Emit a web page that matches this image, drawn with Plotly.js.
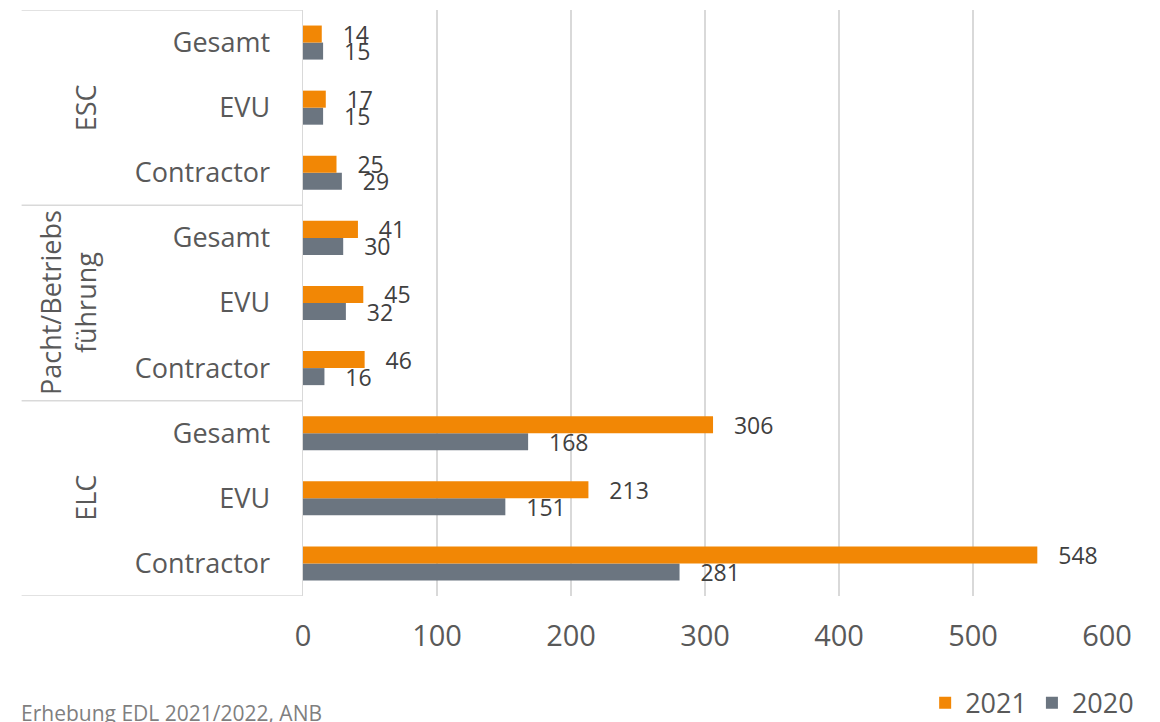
<!DOCTYPE html>
<html>
<head>
<meta charset="utf-8">
<script src="https://cdn.plot.ly/plotly-3.0.1.min.js"></script>
<style>
  body { margin: 0; background: #fff; }
  #chart { width: 1160px; height: 722px; }
</style>
</head>
<body>
<div id="chart"></div>
<script>
// bottom to top, as plotly draws them
const groups = ['ELC', 'Pacht/Betriebs<br>führung', 'ESC'];
const roles = ['Contractor', 'EVU', 'Gesamt'];
const years = ['2020', '2021'];
const values2020 = [281, 151, 168, 16, 32, 30, 29, 15, 15];
const values2021 = [548, 213, 306, 46, 45, 41, 25, 17, 14];
const source = 'Erhebung EDL 2021/2022, ANB';

const colors = { '2021': '#f28705', '2020': '#6b7580' };
const gridCol = '#d9d9d9';
const textCol = '#595959';
const font = 'Open Sans, sans-serif';

let rowLabels = [];
let rowIdx = [];
groups.forEach(function (g, gi) {
    roles.forEach(function (r, ri) {
        rowLabels.push(r);
        rowIdx.push(gi * roles.length + ri);
    });
});

function makeTrace(year, vals) {
    return {
        type: 'bar',
        orientation: 'h',
        name: year,
        x: vals,
        y: rowIdx,
        marker: { color: colors[year] },
        text: vals.map(String),
        texttemplate: '\u00a0\u00a0\u00a0%{text}',
        textposition: 'outside',
        constraintext: 'none',
        cliponaxis: false,
        textfont: { family: font, size: 23, color: '#404040' },
        hoverinfo: 'x'
    };
}

const data = [makeTrace(years[0], values2020), makeTrace(years[1], values2021)];

// group separators and group labels
let shapes = [];
for (let i = 0; i <= groups.length; i++) {
    let yy = i * roles.length - 0.5;
    shapes.push({
        type: 'line', xref: 'paper', yref: 'y',
        x0: -0.35, x1: 0, y0: yy, y1: yy,
        line: { color: gridCol, width: 1.5 }
    });
}

let annotations = groups.map(function (g, gi) {
    return {
        text: g, xref: 'paper', yref: 'y',
        x: -0.245, y: gi * roles.length + 1,
        xanchor: 'right', yanchor: 'middle',
        textangle: -90, showarrow: false,
        font: { family: font, size: 27, color: textCol }
    };
});

annotations.push({
    text: source, xref: 'paper', yref: 'paper',
    x: -0.353, y: -0.2, xanchor: 'left', yanchor: 'middle',
    showarrow: false,
    font: { family: font, size: 21, color: '#7f7f7f' }
});

const layout = {
    width: 1160,
    height: 722,
    margin: { l: 303, r: 53, t: 10, b: 126, autoexpand: false },
    paper_bgcolor: '#fff',
    plot_bgcolor: '#fff',
    barmode: 'group',
    bargap: 0.477,
    bargroupgap: 0,
    showlegend: true,
    legend: {
        orientation: 'h',
        traceorder: 'reversed',
        x: 1.04, xanchor: 'right',
        y: -0.183, yanchor: 'middle',
        font: { family: font, size: 27, color: textCol }
    },
    xaxis: {
        range: [0, 600],
        tickvals: [0, 100, 200, 300, 400, 500, 600],
        showgrid: true,
        gridcolor: gridCol,
        gridwidth: 1.5,
        zeroline: false,
        showline: false,
        ticks: '',
        ticklabelstandoff: 20,
        tickfont: { family: font, size: 29, color: textCol },
        fixedrange: true
    },
    yaxis: {
        range: [-0.5, 8.5],
        tickvals: rowIdx,
        ticktext: rowLabels,
        showgrid: false,
        zeroline: false,
        showline: true,
        linecolor: gridCol,
        linewidth: 1.5,
        ticks: '',
        ticklabelstandoff: 26,
        tickfont: { family: font, size: 27, color: textCol },
        fixedrange: true
    },
    shapes: shapes,
    annotations: annotations
};

Plotly.newPlot('chart', data, layout, { displayModeBar: false, staticPlot: true });
</script>
</body>
</html>
